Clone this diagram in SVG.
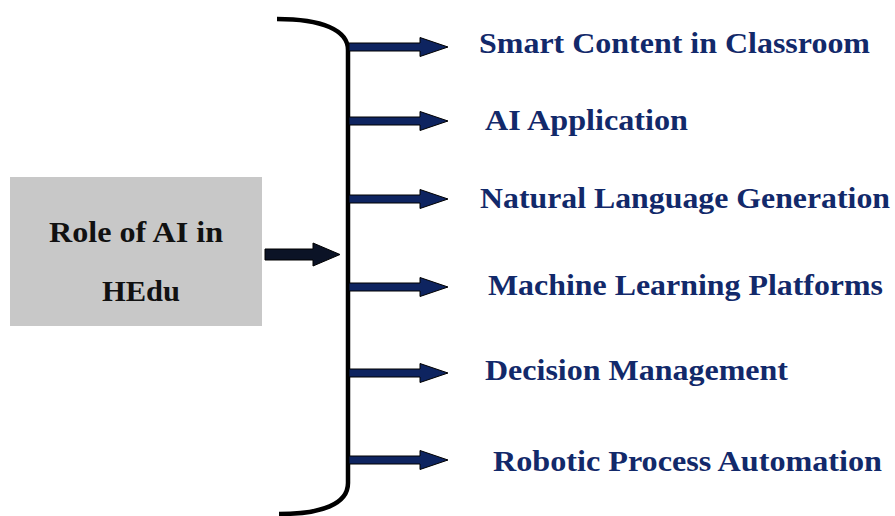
<svg xmlns="http://www.w3.org/2000/svg" width="895" height="516" viewBox="0 0 895 516">
  <style>
    .lbl { font-family: 'Liberation Serif', 'DejaVu Serif', serif; font-weight: 700; font-size: 29px; fill: #12296a; }
    .box-text { font-family: 'Liberation Serif', 'DejaVu Serif', serif; font-weight: 700; font-size: 30px; fill: #111111; }
    .branch { fill: #0e2460; stroke: #000000; stroke-width: 1; stroke-linejoin: miter; }
    .feed { fill: #0b1326; stroke: #000000; stroke-width: 1; }
    .brace { fill: none; stroke: #000000; stroke-width: 4.5; stroke-linecap: butt; }
  </style>
  <defs>
    <!-- branch arrow, drawn with its tail at the origin -->
    <polygon id="branch-arrow" points="0,-4 71,-4 71,-9.5 99,0 71,9.5 71,4 0,4"/>
  </defs>

  <rect width="895" height="516" fill="#ffffff"/>

  <!-- central node -->
  <g id="node-role">
    <rect x="10" y="177" width="252" height="149" fill="#c8c8c8"/>
    <text class="box-text" x="49" y="242" textLength="174" lengthAdjust="spacingAndGlyphs">Role of AI in</text>
    <text class="box-text" x="102" y="301" textLength="78" lengthAdjust="spacingAndGlyphs">HEdu</text>
  </g>

  <!-- connectors: feed arrow, brace, branch arrows -->
  <g id="connectors">
    <polygon class="feed" points="265,249 313,249 313,243 340,254.5 313,266 313,260 265,260"/>
    <path class="brace" d="M277,19 C322,19 348,30 348,50 L348,483 C348,504 322,514 279,514"/>
    <use href="#branch-arrow" class="branch" x="349" y="47"/>
    <use href="#branch-arrow" class="branch" x="349" y="121"/>
    <use href="#branch-arrow" class="branch" x="349" y="199"/>
    <use href="#branch-arrow" class="branch" x="349" y="287"/>
    <use href="#branch-arrow" class="branch" x="349" y="373"/>
    <use href="#branch-arrow" class="branch" x="349" y="460"/>
  </g>

  <g id="node-smart-content">
    <text class="lbl" x="479" y="53" textLength="391" lengthAdjust="spacingAndGlyphs">Smart Content in Classroom</text>
  </g>
  <g id="node-ai-application">
    <text class="lbl" x="485" y="130" textLength="203" lengthAdjust="spacingAndGlyphs">AI Application</text>
  </g>
  <g id="node-nlg">
    <text class="lbl" x="480" y="208" textLength="410" lengthAdjust="spacingAndGlyphs">Natural Language Generation</text>
  </g>
  <g id="node-ml-platforms">
    <text class="lbl" x="488" y="295" textLength="395" lengthAdjust="spacingAndGlyphs">Machine Learning Platforms</text>
  </g>
  <g id="node-decision">
    <text class="lbl" x="485" y="380" textLength="303" lengthAdjust="spacingAndGlyphs">Decision Management</text>
  </g>
  <g id="node-rpa">
    <text class="lbl" x="493" y="471" textLength="389" lengthAdjust="spacingAndGlyphs">Robotic Process Automation</text>
  </g>
</svg>
